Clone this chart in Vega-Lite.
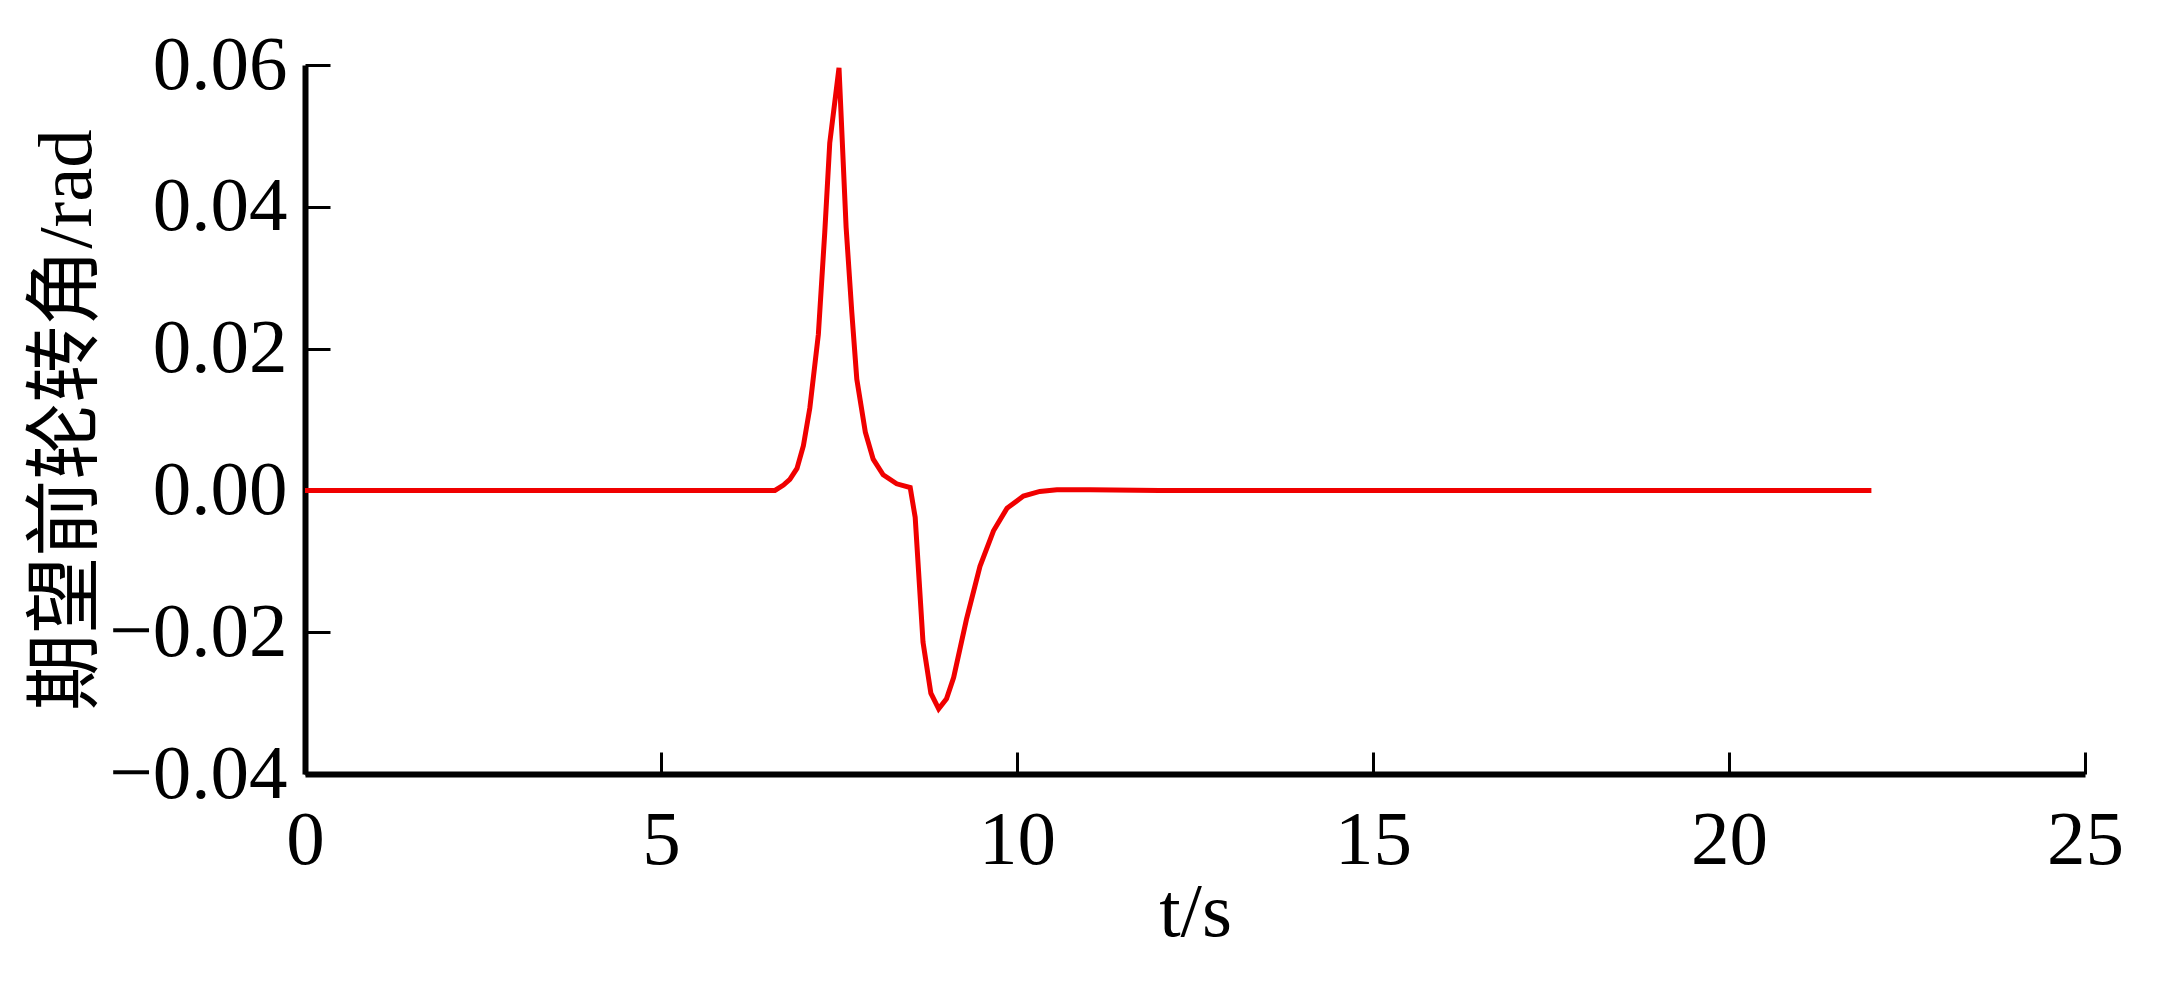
{
  "$schema": "https://vega.github.io/schema/vega-lite/v6.json",
  "width": 1780,
  "height": 709,
  "autosize": "none",
  "padding": {"left": 305, "top": 65, "right": 79, "bottom": 215},
  "background": "white",
  "config": {"view": {"stroke": null}},
  "data": {"values": [
    {"t": 0, "v": 0},
    {"t": 6.60, "v": 0},
    {"t": 6.72, "v": 0.00075},
    {"t": 6.81, "v": 0.00155},
    {"t": 6.91, "v": 0.0031},
    {"t": 7.00, "v": 0.0063},
    {"t": 7.09, "v": 0.0116},
    {"t": 7.21, "v": 0.022},
    {"t": 7.30, "v": 0.0364},
    {"t": 7.37, "v": 0.049},
    {"t": 7.50, "v": 0.0596},
    {"t": 7.60, "v": 0.0371},
    {"t": 7.68, "v": 0.0251},
    {"t": 7.75, "v": 0.0157},
    {"t": 7.87, "v": 0.0082},
    {"t": 7.98, "v": 0.0044},
    {"t": 8.12, "v": 0.0022},
    {"t": 8.31, "v": 0.00093},
    {"t": 8.50, "v": 0.0004},
    {"t": 8.57, "v": -0.0038},
    {"t": 8.68, "v": -0.0214},
    {"t": 8.79, "v": -0.0286},
    {"t": 8.90, "v": -0.0308},
    {"t": 9.01, "v": -0.0294},
    {"t": 9.11, "v": -0.0264},
    {"t": 9.29, "v": -0.0182},
    {"t": 9.48, "v": -0.0107},
    {"t": 9.67, "v": -0.0057},
    {"t": 9.86, "v": -0.0025},
    {"t": 10.09, "v": -0.0008},
    {"t": 10.32, "v": -0.00014},
    {"t": 10.56, "v": 0.0001},
    {"t": 11.03, "v": 0.0001},
    {"t": 12.0, "v": 0},
    {"t": 22.0, "v": 0}
  ]},
  "mark": {"type": "line", "color": "#f00000", "strokeWidth": 5, "clip": false},
  "encoding": {
    "x": {
      "field": "t", "type": "quantitative",
      "scale": {"domain": [0, 25], "nice": false, "zero": false},
      "axis": {
        "title": "t/s",
        "values": [0, 5, 10, 15, 20, 25],
        "grid": false,
        "domainColor": "black", "domainWidth": 6,
        "tickColor": "black", "tickWidth": 3, "tickSize": -22,
        "labelFont": "Liberation Serif", "labelFontSize": 77, "labelColor": "black",
        "labelPadding": 50, "labelFlush": false,
        "titleFont": "Liberation Serif", "titleFontSize": 77, "titleFontWeight": "normal", "titleColor": "black",
        "titlePadding": -4
      }
    },
    "y": {
      "field": "v", "type": "quantitative",
      "scale": {"domain": [-0.04, 0.06], "nice": false, "zero": false},
      "axis": {
        "title": "期望前轮转角/rad",
        "values": [-0.04, -0.02, 0, 0.02, 0.04, 0.06],
        "format": ".2f",
        "grid": false,
        "domainColor": "black", "domainWidth": 6,
        "tickColor": "black", "tickWidth": 3, "tickSize": -25,
        "labelFont": "Liberation Serif", "labelFontSize": 77, "labelColor": "black",
        "labelPadding": 43, "labelFlush": false,
        "titleFont": "Liberation Serif, Noto Sans CJK SC", "titleFontSize": 77, "titleFontWeight": "normal", "titleColor": "black",
        "titlePadding": 2
      }
    }
  }
}
